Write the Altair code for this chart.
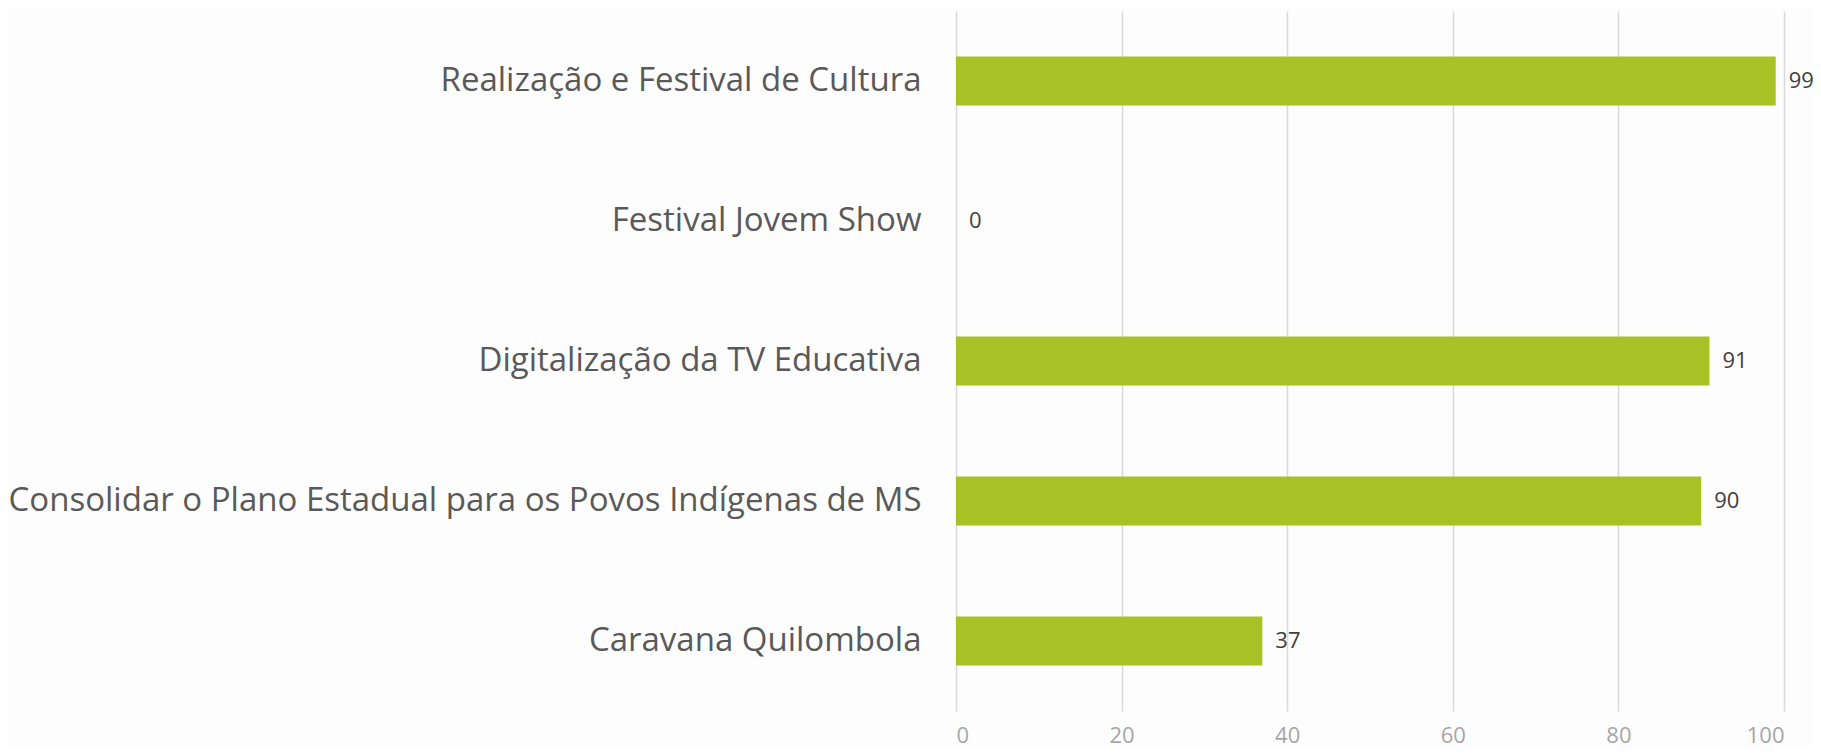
import altair as alt
import pandas as pd

categories = [
    "Realização e Festival de Cultura",
    "Festival Jovem Show",
    "Digitalização da TV Educativa",
    "Consolidar o Plano Estadual para os Povos Indígenas de MS",
    "Caravana Quilombola",
]
values = [99, 0, 91, 90, 37]
tick_values = [0, 20, 40, 60, 80, 100]

df = pd.DataFrame({"cat": categories, "val": values})

y_enc = alt.Y(
    "cat:N",
    sort=categories,
    scale=alt.Scale(paddingInner=0.65, paddingOuter=0.325),
    axis=alt.Axis(
        title=None,
        domain=False,
        ticks=False,
        labelFont="Open Sans",
        labelFontSize=33,
        labelColor="#595959",
        labelPadding=35,
        labelLimit=1000,
        grid=False,
    ),
)
x_enc = alt.X(
    "val:Q",
    scale=alt.Scale(domain=[0, 100], nice=False),
    axis=alt.Axis(
        title=None,
        values=tick_values,
        domain=False,
        ticks=False,
        grid=True,
        gridColor="#d9d9d9",
        gridWidth=1.5,
        labelFont="Open Sans",
        labelFontSize=22,
        labelColor="#a6a6a6",
        labelPadding=14,
    ),
)

bars = alt.Chart(df).mark_bar(color="#a8c124").encode(y=y_enc, x=x_enc)
labels = alt.Chart(df).mark_text(
    align="left", baseline="middle", dx=13, font="Open Sans", fontSize=22, color="#404040"
).encode(y=alt.Y("cat:N", sort=categories), x="val:Q", text="val:Q")

chart = (
    alt.layer(bars, labels)
    .properties(
        width=828,
        height=700,
        background="#fdfdfd",
        autosize=alt.AutoSizeParams(type="none"),
        padding={"left": 948, "top": 3, "right": 29, "bottom": 36},
    )
    .configure_view(stroke=None)
)

chart.save("out.html", embed_options={"renderer": "svg", "actions": False})
